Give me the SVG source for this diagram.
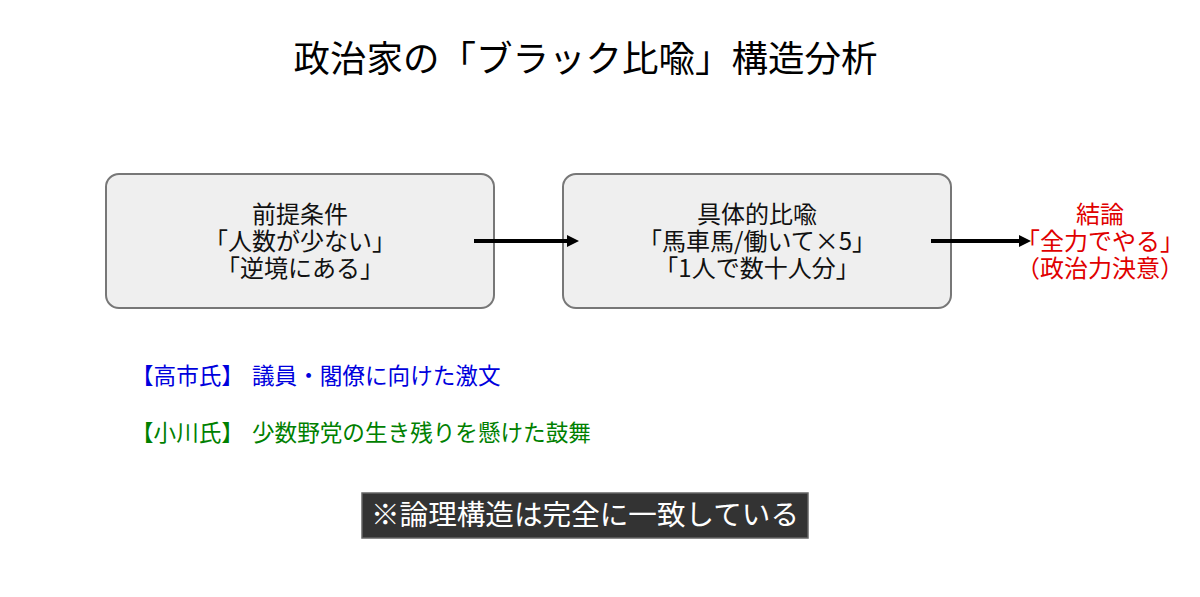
<svg xmlns="http://www.w3.org/2000/svg" width="1200" height="597" viewBox="0 0 1200 597">
<style>
text{font-family:"Noto Sans CJK JP","Noto Sans",sans-serif;}
.box{fill:#efefef;stroke:#777;stroke-width:2;}
.bt{font-size:24px;fill:#111;text-anchor:middle;}
.red{fill:#e00000;}
.conn{stroke:#000;stroke-width:4;fill:none;}
.note{font-size:22.6px;}
</style>
<defs>
<marker id="ah" viewBox="0 0 10 10" refX="5" refY="5" markerWidth="3" markerHeight="3" orient="auto" markerUnits="strokeWidth">
<path d="M0,0 L10,5 L0,10 z" fill="#000"/>
</marker>
</defs>
<rect width="1200" height="597" fill="#fff"/>
<text x="585.5" y="72" font-size="36.5" text-anchor="middle" fill="#000">政治家の「ブラック比喩」構造分析</text>
<g id="node-premise">
<rect class="box" x="106" y="174" width="388" height="134" rx="13"/>
<text class="bt" x="300" y="223">前提条件</text>
<text class="bt" x="300" y="250">「人数が少ない」</text>
<text class="bt" x="300" y="277">「逆境にある」</text>
</g>
<g id="node-metaphor">
<rect class="box" x="563" y="174" width="388" height="134" rx="13"/>
<text class="bt" x="757" y="223">具体的比喩</text>
<text class="bt" x="757" y="250">「馬車馬/働いて×5」</text>
<text class="bt" x="757" y="277">「1人で数十人分」</text>
</g>
<g id="node-conclusion">
<text class="bt red" x="1100" y="223">結論</text>
<text class="bt red" x="1100" y="250">「全力でやる」</text>
<text class="bt red" x="1100" y="277">（政治力決意）</text>
</g>
<g id="connectors">
<line class="conn" x1="474" y1="241" x2="573" y2="241" marker-end="url(#ah)"/>
<line class="conn" x1="931" y1="241" x2="1025" y2="241" marker-end="url(#ah)"/>
</g>
<g id="note-takaichi">
<text class="note" x="131" y="384" fill="#0000dd">【高市氏】</text>
<text class="note" x="252" y="384" fill="#0000dd">議員・閣僚に向けた激文</text>
</g>
<g id="note-ogawa">
<text class="note" x="131" y="441" fill="#008000">【小川氏】</text>
<text class="note" x="252" y="441" fill="#008000">少数野党の生き残りを懸けた鼓舞</text>
</g>
<g id="summary">
<rect x="362" y="493" width="446" height="45" fill="#333" stroke="#666" stroke-width="1.5"/>
<text x="585" y="525" font-size="28.6" text-anchor="middle" fill="#fff">※論理構造は完全に一致している</text>
</g>
</svg>
